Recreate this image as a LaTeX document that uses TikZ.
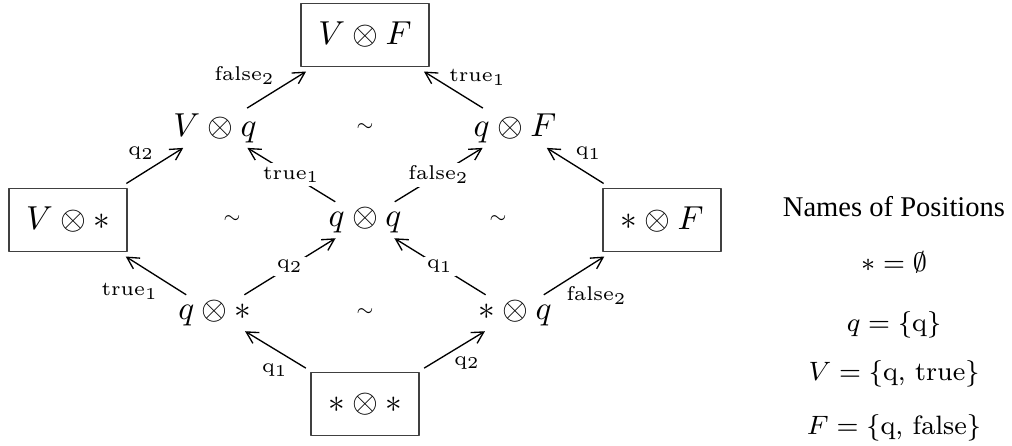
\documentclass[tikz,border=0pt]{standalone}
\usepackage{fontspec}
\newfontfamily\legendfont{Liberation Serif}
\usetikzlibrary{arrows.meta}

\begin{document}
\begin{tikzpicture}[>={Straight Barb[length=3.5pt,width=3.8pt]}, line join=bevel,
    posbox/.style={draw=black!75, line width=0.5pt, inner xsep=5.2pt, minimum height=19pt, outer sep=1.5pt},
    posnode/.style={inner sep=0pt, outer sep=1.6pt},
    equiv/.style={scale=0.65},
    lbl/.style={font=\fontsize{6}{7}\selectfont, inner sep=1pt},
    onlbl/.style={lbl, fill=white},
    legend/.style={anchor=base, font=\fontsize{8}{10}\selectfont}]
  \pgfsetlinewidth{0.4bp}
  \useasboundingbox (0bp,0bp) rectangle (303.6bp,133.8bp);
  %%
  % Nodes: boxed positions
  \node[posbox] (VF) at (109.5bp,123.3bp) {$V \otimes F$};
  \node[posbox] (Vs) at (20.4bp,67.8bp) {$V \otimes *$};
  \node[posbox] (sF) at (198.6bp,67.8bp) {$* \otimes F$};
  \node[posbox] (ss) at (109.5bp,12.6bp) {$* \otimes *$};
  % Nodes: other positions
  \node[posnode] (Vq) at (64.5bp,95.4bp) {$V \otimes q$};
  \node[posnode] (qF) at (154.5bp,95.4bp) {$q \otimes F$};
  \node[posnode] (qq) at (109.5bp,67.8bp) {$q \otimes q$};
  \node[posnode] (qs) at (64.5bp,39.9bp) {$q \otimes *$};
  \node[posnode] (sq) at (154.5bp,39.9bp) {$* \otimes q$};
  % Nodes: equivalences
  \node[equiv] (simT) at (109.5bp,95.4bp) {$\sim$};
  \node[equiv] (simL) at (69.6bp,67.8bp) {$\sim$};
  \node[equiv] (simR) at (149.4bp,67.8bp) {$\sim$};
  \node[equiv] (simB) at (109.5bp,39.9bp) {$\sim$};
  %
  % Edges
  \draw[->] (Vq) -- node[lbl, pos=.54, above left] (l1) {$\mathrm{false}_2$} (VF);
  \draw[->] (qF) -- node[lbl, pos=.84, right=3.6pt] (l2) {$\mathrm{true}_1$} (VF);
  \draw[->] (Vs) -- node[lbl, pos=.56, above left] (l3) {$\mathrm{q}_2$} (Vq);
  \draw[->] (qq) -- node[onlbl, pos=.5] (l4) {$\mathrm{true}_1$} (Vq);
  \draw[->] (qq) -- node[onlbl, pos=.5] (l5) {$\mathrm{false}_2$} (qF);
  \draw[->] (sF) -- node[lbl, pos=.56, above right] (l6) {$\mathrm{q}_1$} (qF);
  \draw[->] (qs) -- node[lbl, pos=.4, below left] (l7) {$\mathrm{true}_1$} (Vs);
  \draw[->] (qs) -- node[onlbl, pos=.5] (l8) {$\mathrm{q}_2$} (qq);
  \draw[->] (sq) -- node[onlbl, pos=.5] (l9) {$\mathrm{q}_1$} (qq);
  \draw[->] (sq) -- node[lbl, pos=.31, below right] (l10) {$\mathrm{false}_2$} (sF);
  \draw[->] (ss) -- node[lbl, pos=.23, below left] (l11) {$\mathrm{q}_1$} (qs);
  \draw[->] (ss) -- node[lbl, pos=.43, below right] (l12) {$\mathrm{q}_2$} (sq);
  %
  % Legend
  \node[legend, font=\fontsize{8.6}{10}\selectfont] (lgHead) at (268.2bp,68.7bp) {\legendfont Names of Positions};
  \node[legend] (lgS) at (268.2bp,52.2bp) {$* = \emptyset$};
  \node[legend] (lgQ) at (268.2bp,34.5bp) {$q = \{\mbox{q}\}$};
  \node[legend] (lgV) at (268.2bp,19.8bp) {$V = \{\mbox{q, true}\}$};
  \node[legend] (lgF) at (268.2bp,3.6bp) {$F = \{\mbox{q, false}\}$};
\end{tikzpicture}
\end{document}
